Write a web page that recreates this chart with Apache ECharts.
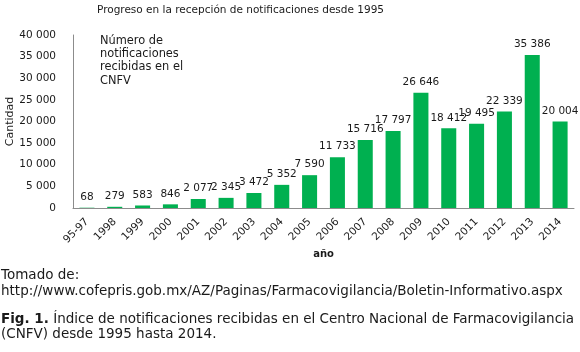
<!DOCTYPE html>
<html>
<head>
<meta charset="utf-8">
<script src="https://cdn.jsdelivr.net/npm/echarts@6/dist/echarts.min.js"></script>
<style>
  html, body { margin: 0; padding: 0; background: #fff; }
  #chart { width: 580px; height: 352px; }
</style>
</head>
<body>
<div id="chart"></div>
<script>
// datos
var years = ['95-97', '1998', '1999', '2000', '2001', '2002', '2003', '2004', '2005',
  '2006', '2007', '2008', '2009', '2010', '2011', '2012', '2013', '2014'];
var notificaciones = [68, 279, 583, 846, 2077, 2345, 3472, 5352, 7590,
  11733, 15716, 17797, 26646, 18412, 19495, 22339, 35386, 20004];
var yTicks = [0, 5000, 10000, 15000, 20000, 25000, 30000, 35000, 40000];

var font = '"DejaVu Sans", sans-serif';
var txt = '#1a1a1a';

// 12345 -> "12 345"
function fmt(v) {
  return String(v).replace(/\B(?=(\d{3})+(?!\d))/g, ' ');
}

var chart = echarts.init(document.getElementById('chart'));
chart.setOption({
  animation: false,
  textStyle: { fontFamily: font, color: txt },
  title: {
    text: 'Progreso en la recepción de notificaciones desde 1995',
    left: 97, top: 5, padding: 0,
    textStyle: { fontFamily: font, fontSize: 10.5, fontWeight: 'normal', color: txt }
  },
  grid: { left: 73, right: 6, top: 35, bottom: 144, outerBoundsMode: 'none' },
  xAxis: {
    type: 'category',
    data: years,
    name: 'año',
    nameLocation: 'middle',
    nameGap: 41,
    nameMoveOverlap: false,
    nameTextStyle: { fontFamily: font, fontSize: 10, fontWeight: 'bold', color: txt },
    axisLine: { lineStyle: { color: '#8c8c8c' } },
    axisTick: { show: false },
    axisLabel: { rotate: 45, fontFamily: font, fontSize: 10.5, color: txt, margin: 12, interval: 0 }
  },
  yAxis: {
    type: 'value',
    min: yTicks[0],
    max: yTicks[yTicks.length - 1],
    interval: yTicks[1] - yTicks[0],
    name: 'Cantidad',
    nameLocation: 'middle',
    nameGap: 57,
    nameMoveOverlap: false,
    nameTextStyle: { fontFamily: font, fontSize: 11, color: txt },
    axisLine: { show: true, lineStyle: { color: '#8c8c8c' } },
    axisTick: { show: false },
    splitLine: { show: false },
    axisLabel: { fontFamily: font, fontSize: 10.5, color: txt, margin: 17, formatter: fmt }
  },
  series: [{
    type: 'bar',
    data: notificaciones,
    barWidth: '54%',
    itemStyle: { color: '#00b050' },
    label: {
      show: true,
      position: 'top',
      distance: 5,
      fontFamily: font,
      fontSize: 10.5,
      color: txt,
      formatter: function (p) { return fmt(p.value); }
    }
  }],
  graphic: [
    {
      type: 'text', left: 100, top: 34,
      style: {
        text: 'Número de\nnotificaciones\nrecibidas en el\nCNFV',
        fontFamily: font, fontSize: 11.4, lineHeight: 13.3, fill: txt
      }
    },
    {
      type: 'text', left: 1, top: 267,
      style: {
        text: 'Tomado de:\nhttp://www.cofepris.gob.mx/AZ/Paginas/Farmacovigilancia/Boletin-Informativo.aspx',
        fontFamily: font, fontSize: 13.5, lineHeight: 16, fill: txt
      }
    },
    {
      type: 'text', left: 1, top: 312,
      style: {
        text: '{b|Fig. 1.} Índice de notificaciones recibidas en el Centro Nacional de Farmacovigilancia\n(CNFV) desde 1995 hasta 2014.',
        fontFamily: font, fontSize: 13.5, lineHeight: 15, fill: txt,
        rich: { b: { fontFamily: font, fontSize: 13.5, fontWeight: 'bold', fill: txt, lineHeight: 15 } }
      }
    }
  ]
});
</script>
</body>
</html>
